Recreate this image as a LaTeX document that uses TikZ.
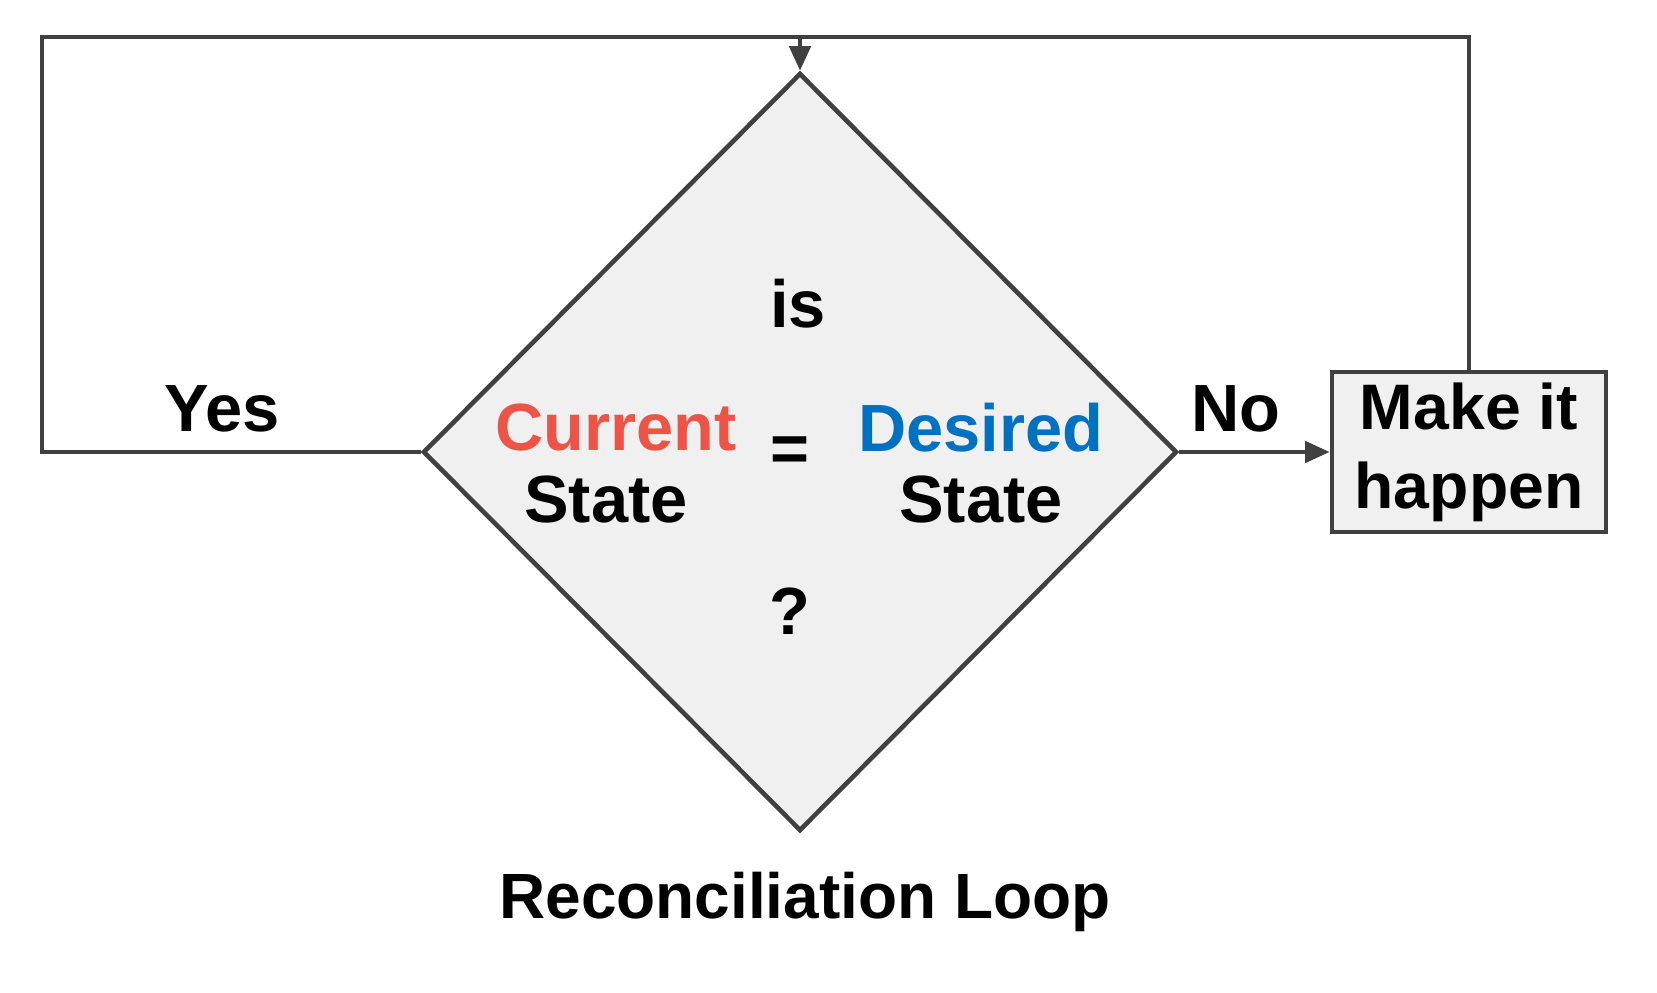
\documentclass[tikz,border=0pt]{standalone}
\usepackage{fontspec}
\setmainfont{Liberation Sans}
\usetikzlibrary{positioning,arrows.meta,shapes.geometric}
\definecolor{linegray}{RGB}{64,64,64}
\definecolor{boxbg}{RGB}{240,240,240}
\definecolor{currentred}{RGB}{236,84,72}
\definecolor{desiredblue}{RGB}{0,112,192}

\begin{document}
\begin{tikzpicture}[x=1cm,y=1cm,every node/.style={font=\fontsize{19}{23}\selectfont\bfseries},
  link/.style={draw=linegray,line width=1.3pt},
  arrow/.style={link,-{Triangle[length=7pt,width=6pt]}},
  decision/.style={diamond,draw=linegray,fill=boxbg,line width=1.3pt,inner sep=0pt,minimum width=7.54cm,minimum height=7.58cm},
  action/.style={rectangle,draw=linegray,fill=boxbg,line width=1.3pt,align=center,minimum width=2.74cm,minimum height=1.60cm,inner sep=2pt,font=\fontsize{18.3}{22.5}\selectfont\bfseries}]
  \useasboundingbox (0,0) rectangle (16.57,9.92);
  \node[decision] (check) at (8.00,5.40) {};
  \node[action] (act) at (14.69,5.40) {Make it\\happen};
  \coordinate (topleft) at (0.42,9.55);
  \coordinate (topright) at (14.69,9.55);
  % labels inside the diamond
  \node (is) at (7.98,6.88) {is};
  \node[text=currentred] (cur) at (6.16,5.64) {Current};
  \node (curstate) at (6.06,4.92) {State};
  \node (eq) at (7.90,5.38) {=};
  \node[text=desiredblue] (des) at (9.81,5.64) {Desired};
  \node (desstate) at (9.81,4.92) {State};
  \node (qm) at (7.90,3.81) {?};
  % branch labels
  \node (yes) at (2.22,5.83) {Yes};
  \node (no) at (12.36,5.83) {No};
  \node[font=\fontsize{18.2}{22}\selectfont\bfseries] (title) at (8.05,0.90) {Reconciliation Loop};
  % loop
  \draw[link] (check.west) -| (topleft) -- (topright) -- (act.north);
  \draw[arrow] (check.north |- topleft) -- (check.north);
  \draw[arrow] (check.east) -- (act.west);
\end{tikzpicture}
\end{document}
